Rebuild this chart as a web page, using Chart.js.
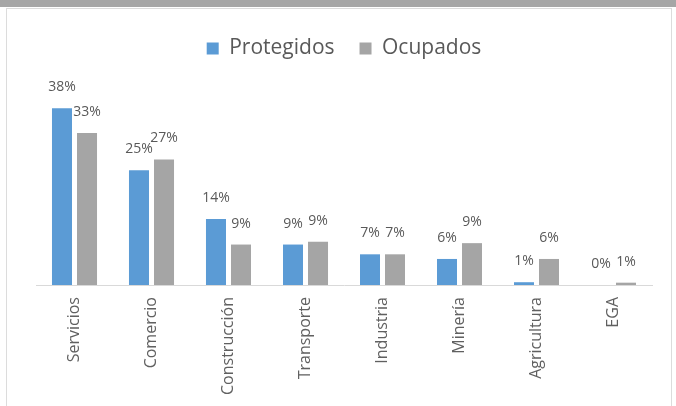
<!DOCTYPE html>
<html>
<head>
<meta charset="utf-8">
<script src="https://cdn.jsdelivr.net/npm/chart.js@4"></script>
<style>
  html, body { margin: 0; padding: 0; background: #fff; }
  #wrap { position: relative; width: 676px; height: 406px; overflow: hidden; }
  #band { position: absolute; left: 0; top: 0; width: 676px; height: 7px; background: #a6a6a6; }
  #frame { position: absolute; left: 6px; top: 8px; width: 666px; height: 400px; border: 1px solid #dcdcdc; box-sizing: border-box; }
  canvas { position: absolute; left: 0; top: 0; }
</style>
</head>
<body>
<div id="wrap">
  <div id="band"></div>
  <div id="frame"></div>
  <canvas id="c" width="676" height="406"></canvas>
</div>
<script>
const categories = ['Servicios', 'Comercio', 'Construcción', 'Transporte', 'Industria', 'Minería', 'Agricultura', 'EGA'];
const protegidos = [38.0, 24.7, 14.2, 8.7, 6.6, 5.6, 0.6, 0.0];
const ocupados   = [32.7, 27.0, 8.7, 9.3, 6.6, 9.0, 5.6, 0.5];
const seriesNames = ['Protegidos', 'Ocupados'];

const FONT = "'Open Sans', 'Liberation Sans', sans-serif";
const TXT = '#595959';

const legendSpacer = {
  id: 'legendSpacer',
  beforeInit(chart) {
    const origFit = chart.legend.fit;
    chart.legend.fit = function () {
      origFit.bind(chart.legend)();
      this.height = 86;
    };
  }
};

const valueLabels = {
  id: 'valueLabels',
  afterDatasetsDraw(chart) {
    const ctx = chart.ctx;
    ctx.save();
    ctx.font = '14px ' + FONT;
    ctx.fillStyle = TXT;
    ctx.textAlign = 'center';
    ctx.textBaseline = 'middle';
    chart.data.datasets.forEach((ds, i) => {
      const meta = chart.getDatasetMeta(i);
      meta.data.forEach((el, j) => {
        ctx.fillText(Math.round(ds.data[j]) + '%', el.x, el.y - 21);
      });
    });
    ctx.restore();
  }
};

new Chart(document.getElementById('c'), {
  type: 'bar',
  data: {
    labels: categories,
    datasets: [
      { label: seriesNames[0], data: protegidos, backgroundColor: '#5b9bd5' },
      { label: seriesNames[1], data: ocupados, backgroundColor: '#a5a5a5' }
    ]
  },
  options: {
    responsive: false,
    animation: false,
    devicePixelRatio: 1,
    layout: { padding: { left: 36, right: 24, top: 13, bottom: 0 } },
    datasets: { bar: { categoryPercentage: 0.65, barPercentage: 0.8 } },
    plugins: {
      legend: {
        position: 'top',
        align: 'center',
        labels: {
          boxWidth: 12,
          boxHeight: 12,
          padding: 25,
          color: TXT,
          font: { family: FONT, size: 21 }
        }
      },
      tooltip: { enabled: false }
    },
    scales: {
      x: {
        grid: { display: false, drawTicks: false },
        border: { display: true, color: '#d9d9d9', width: 1 },
        ticks: {
          minRotation: 90,
          maxRotation: 90,
          padding: 12,
          color: '#606060',
          font: { family: FONT, size: 16 }
        },
        afterFit(scale) { scale.height = 121; }
      },
      y: {
        display: false,
        min: 0,
        max: 40
      }
    }
  },
  plugins: [legendSpacer, valueLabels]
});
</script>
</body>
</html>
